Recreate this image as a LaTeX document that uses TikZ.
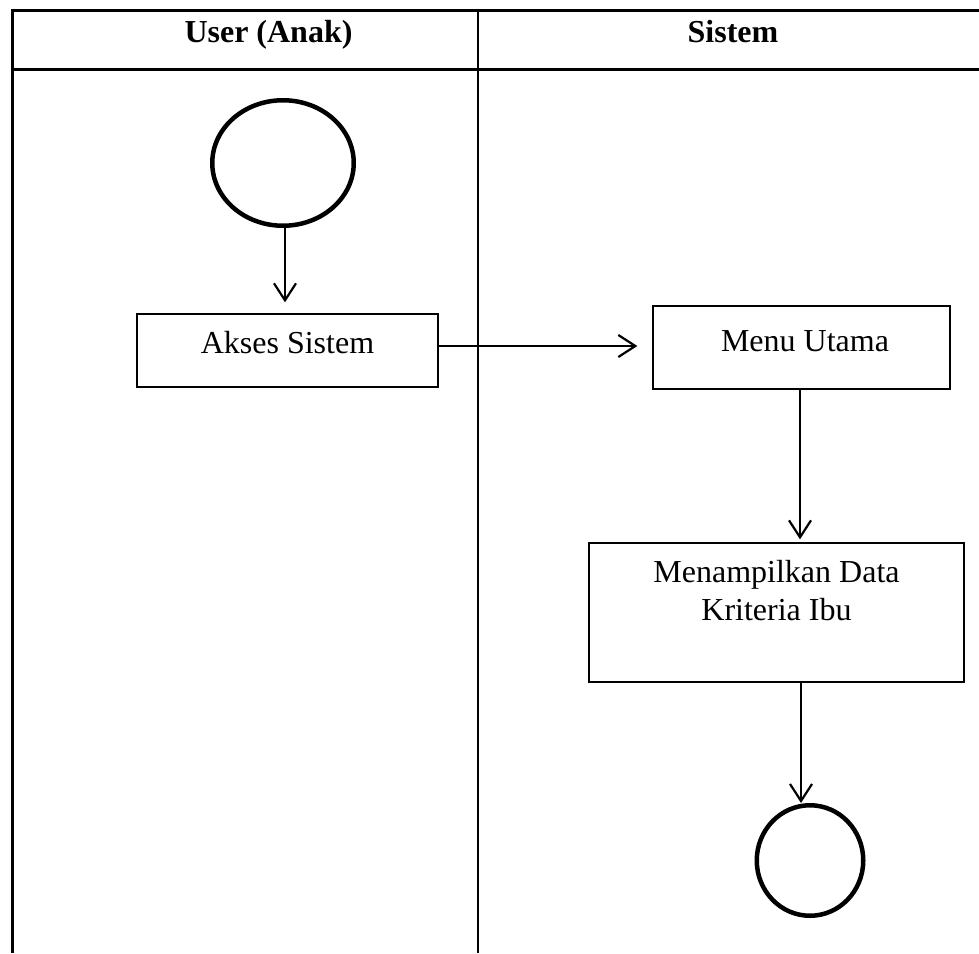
\documentclass[tikz,border=0pt]{standalone}
\usepackage{fontspec}
\setmainfont{Liberation Serif}
\usetikzlibrary{arrows.meta,shapes.geometric}
\begin{document}
\begin{tikzpicture}[x=1pt,y=-1pt,
  every node/.style={font=\fontsize{32}{37}\selectfont},
  lane/.style={line width=3pt},
  head/.style={font=\fontsize{32}{37}\selectfont\bfseries, anchor=base, inner sep=0pt},
  lbl/.style={anchor=base, inner sep=0pt, align=center},
  actbox/.style={draw, line width=1.3pt, rectangle, inner sep=0pt},
  terminal/.style={draw, ellipse, line width=4.5pt, inner sep=0pt},
  flow/.style={line width=2.2pt, -{Straight Barb[length=17pt,width=22pt,line width=2.2pt]}}
]
\useasboundingbox (0,0) rectangle (979,953);

% swimlane frame
\draw[lane] (12,10) -- (979,10);
\draw[lane] (12,69.5) -- (979,69.5);
\draw[lane] (12,8.5) -- (12,953);
\draw[lane, line width=2.5pt] (478,8.5) -- (478,953);

% lane titles
\node[head] (h-user) at (268.5,42) {User (Anak)};
\node[head] (h-sys) at (733,42) {Sistem};

% start
\node[terminal, minimum width=141.5pt, minimum height=125.5pt] (start) at (283,163) {};

% activities
\node[actbox, minimum width=301pt, minimum height=73pt] (akses) at (287.5,350.5) {};
\node[lbl] (akses-t) at (287.5,353) {Akses Sistem};

\node[actbox, minimum width=297pt, minimum height=83pt] (menu) at (801.5,347.5) {};
\node[lbl] (menu-t) at (805,351) {Menu Utama};

\node[actbox, minimum width=375pt, minimum height=139pt] (tampil) at (776.5,612.5) {};
\node[lbl] (tampil-t1) at (776.5,582) {Menampilkan Data};
\node[lbl] (tampil-t2) at (776.5,620) {Kriteria Ibu};

% end
\node[terminal, minimum width=106.5pt, minimum height=110.5pt] (stop) at (810,860.5) {};

% flows
\draw[flow, shorten >=11pt] ([xshift=2pt]start.south) -- ([xshift=2pt]start.south |- akses.north);
\draw[flow, shorten >=15pt] ([yshift=4.5pt]akses.east) -- ([yshift=4.5pt]akses.east -| menu.west);
\draw[flow, shorten >=3pt] ([xshift=-1.5pt]menu.south) -- ([xshift=-1.5pt]menu.south |- tampil.north);
\draw[flow, shorten >=0pt] ([xshift=24.5pt]tampil.south) -- ([xshift=24.5pt]tampil.south |- stop.north);
\end{tikzpicture}
\end{document}
